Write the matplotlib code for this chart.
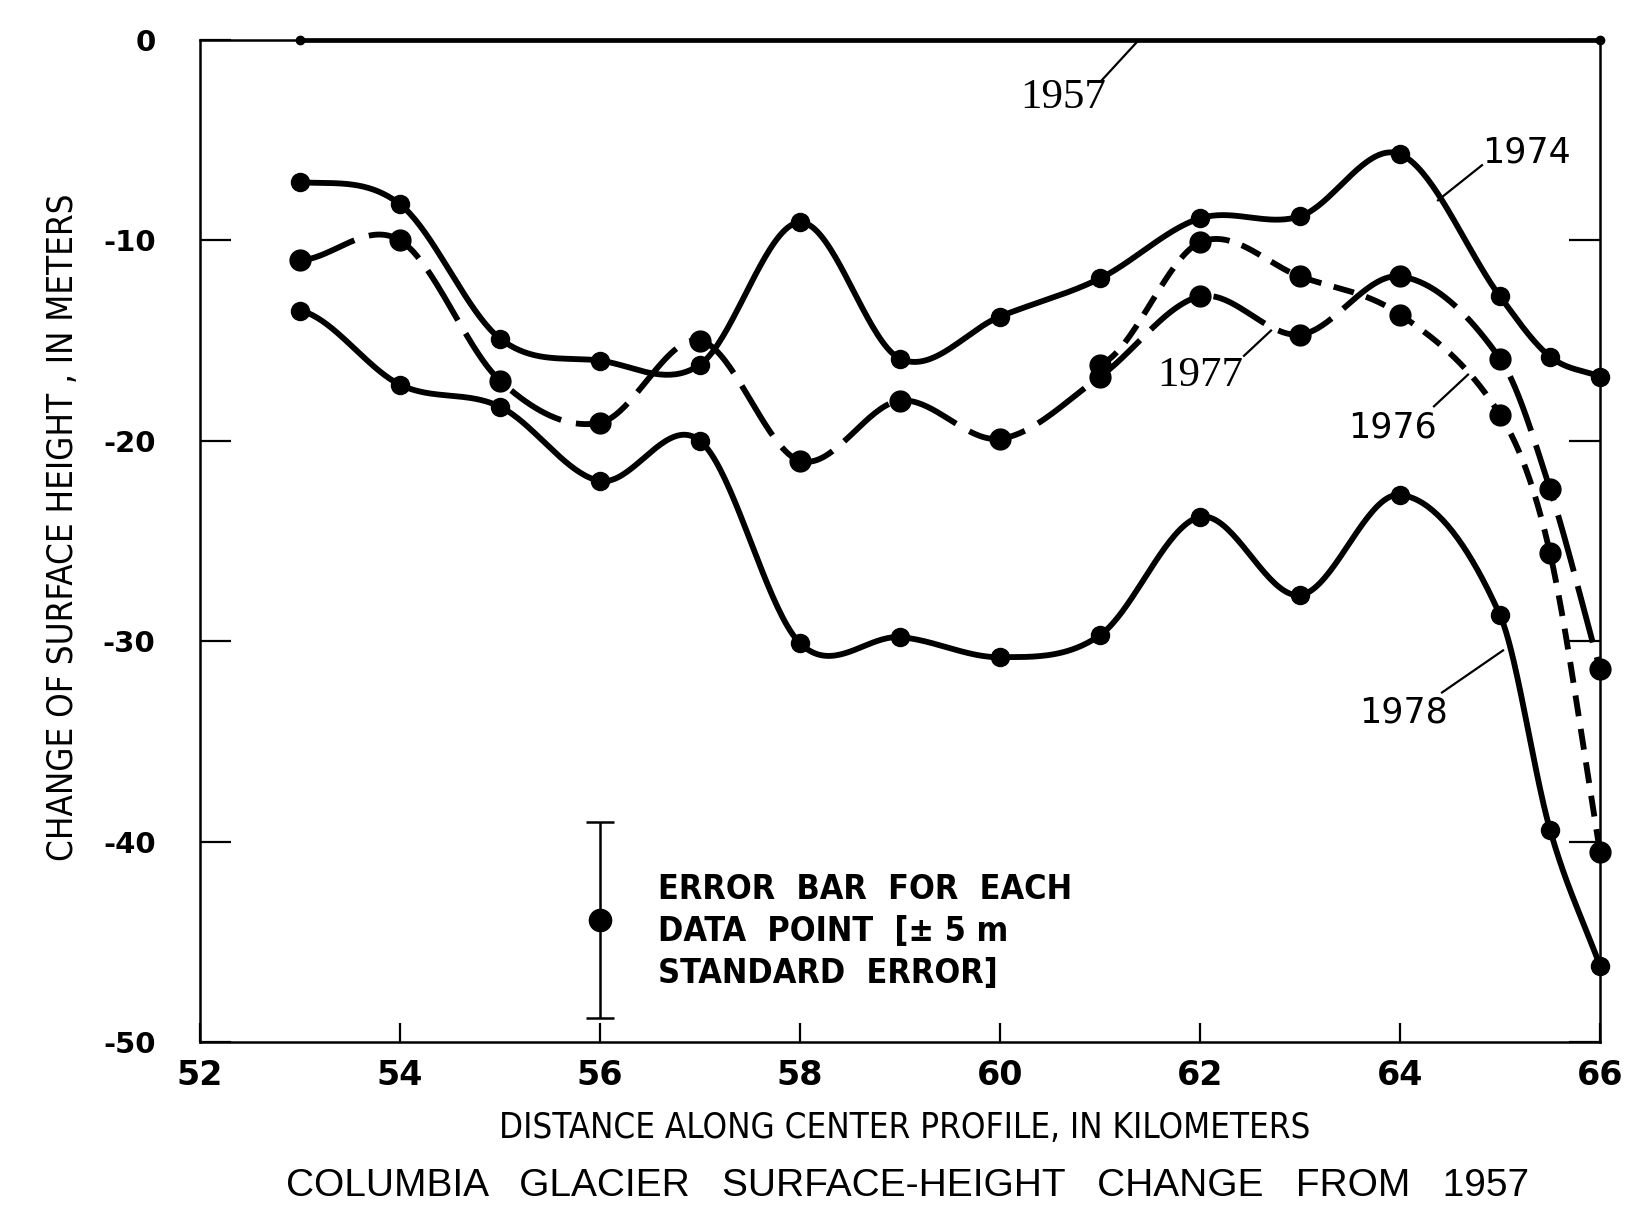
import numpy as np
import matplotlib
matplotlib.use("Agg")
import matplotlib.pyplot as plt

# distance along centre profile (km) and surface-height change (m)
km = [53, 54, 55, 56, 57, 58, 59, 60, 61, 62, 63, 64, 65, 65.5, 66]
h1974 = [-7.1, -8.2, -14.9, -16.0, -16.2, -9.1, -15.9, -13.8, -11.9, -8.9, -8.8, -5.7, -12.8, -15.8, -16.8]
h1977 = [-11.0, -10.0, -17.0, -19.1, -15.0, -21.0, -18.0, -19.9, -16.8, -12.8, -14.7, -11.8, -15.9, -22.4, -31.4]
h1978 = [-13.5, -17.2, -18.3, -22.0, -20.0, -30.1, -29.8, -30.8, -29.7, -23.8, -27.7, -22.7, -28.7, -39.4, -46.2]
km_1976 = [61, 62, 63, 64, 65, 65.5, 66]
h1976 = [-16.2, -10.1, -11.8, -13.7, -18.7, -25.6, -40.5]
km_1957 = [53, 66]
h1957 = [0, 0]

xticks = [52, 54, 56, 58, 60, 62, 64, 66]
yticks = [0, -10, -20, -30, -40, -50]
ytick_labels = ["0", "-10", "-20", "-30", "-40", "-50"]

# error bar sample
err_x, err_y, err_size = 56.0, -43.9, 4.9
err_text = ["ERROR  BAR  FOR  EACH", "DATA  POINT  [\u00b1 5 m", "STANDARD  ERROR]"]


def smooth(x, y, n=40):
    # cubic hermite through the points, tangents from neighbours
    x = np.asarray(x, float)
    y = np.asarray(y, float)
    m = np.empty_like(y)
    m[1:-1] = (y[2:] - y[:-2]) / (x[2:] - x[:-2])
    m[0] = 0.3 * (y[1] - y[0]) / (x[1] - x[0])
    m[-1] = (y[-1] - y[-2]) / (x[-1] - x[-2])
    xs, ys = [], []
    for i in range(len(x) - 1):
        h = x[i + 1] - x[i]
        t = np.linspace(0, 1, n, endpoint=(i == len(x) - 2))
        h00 = 2 * t**3 - 3 * t**2 + 1
        h10 = t**3 - 2 * t**2 + t
        h01 = -2 * t**3 + 3 * t**2
        h11 = t**3 - t**2
        xs.append(x[i] + t * h)
        ys.append(h00 * y[i] + h10 * h * m[i] + h01 * y[i + 1] + h11 * h * m[i + 1])
    return np.concatenate(xs), np.concatenate(ys)


fig = plt.figure(figsize=(16.5, 12.1), dpi=100)
ax = fig.add_axes([0.1212, 0.1388, 0.8485, 0.8282])

lw = 4.2
ms = 15

sx, sy = smooth(km, h1974)
ax.plot(sx, sy, color="black", lw=lw, clip_on=False, solid_capstyle="round")
ax.plot(km, h1974, "o", color="black", ms=ms - 2, clip_on=False)

sx, sy = smooth(km, h1977)
ax.plot(sx, sy, color="black", lw=lw, dashes=(10, 2.6), clip_on=False)
ax.plot(km, h1977, "o", color="black", ms=ms, clip_on=False)

sx, sy = smooth(km_1976, h1976)
ax.plot(sx, sy, color="black", lw=lw, dashes=(3.6, 2.2), clip_on=False)
ax.plot(km_1976, h1976, "o", color="black", ms=ms, clip_on=False)

sx, sy = smooth(km, h1978)
ax.plot(sx, sy, color="black", lw=lw, clip_on=False, solid_capstyle="round")
ax.plot(km, h1978, "o", color="black", ms=ms - 2, clip_on=False)

ax.plot(km_1957, h1957, "-o", color="black", lw=3.4, ms=6, clip_on=False)

# error bar key
ax.errorbar(err_x, err_y, yerr=err_size, fmt="o", color="black", ms=16,
            elinewidth=1.8, capsize=10, capthick=1.8)
for i, line in enumerate(err_text):
    ax.text(56.58, -42.4 - 2.1 * i, line, fontsize=24.5, fontweight="bold",
            family="DejaVu Sans", fontstretch="condensed",
            va="center", ha="left")

# curve labels with leader lines
serif = ["Liberation Serif", "DejaVu Serif"]
sans = ["DejaVu Sans"]
labels = [
    ("1957", (61.37, -0.1), (61.02, -2.0), (60.63, -2.9), serif, 31),
    ("1974", (64.38, -8.0), (64.82, -6.25), (65.26, -5.6), sans, 25),
    ("1977", (62.71, -14.5), (62.44, -15.76), (62.0, -16.75), serif, 31),
    ("1976", (64.68, -16.7), (64.34, -18.28), (63.92, -19.33), sans, 25),
    ("1978", (65.03, -30.46), (64.42, -32.56), (64.03, -33.56), sans, 25),
]
for txt, tip, tail, pos, fam, size in labels:
    ax.plot([tail[0], tip[0]], [tail[1], tip[1]], color="black", lw=1.6)
    ax.text(pos[0], pos[1], txt, fontsize=size, family=fam, ha="center", va="center")

ax.set_xlim(52, 66)
ax.set_ylim(-50, 0)
ax.set_xticks(xticks)
ax.set_xticklabels([str(v) for v in xticks], fontsize=24, fontweight="bold", family="DejaVu Sans")
ax.set_yticks(yticks)
ax.set_yticklabels(ytick_labels, fontsize=21, fontweight="bold", family="DejaVu Sans")
ax.tick_params(axis="y", direction="in", length=22, width=1.6, pad=32, right=True)
ax.tick_params(axis="x", direction="in", length=14, width=1.6, pad=12)
for sp in ax.spines.values():
    sp.set_linewidth(1.8)

fig.text(0.038, 0.564, "CHANGE OF SURFACE HEIGHT , IN METERS", rotation=90,
         fontsize=25, family="DejaVu Sans", fontstretch="condensed",
         ha="center", va="center")
fig.text(0.548, 0.0678, "DISTANCE ALONG CENTER PROFILE, IN KILOMETERS",
         fontsize=25, family="DejaVu Sans", fontstretch="condensed",
         ha="center", va="center")
fig.text(0.55, 0.0198, "COLUMBIA   GLACIER   SURFACE-HEIGHT   CHANGE   FROM   1957",
         fontsize=28, family=["Liberation Sans", "DejaVu Sans"],
         ha="center", va="center")

fig.savefig("out.png", dpi=100)
